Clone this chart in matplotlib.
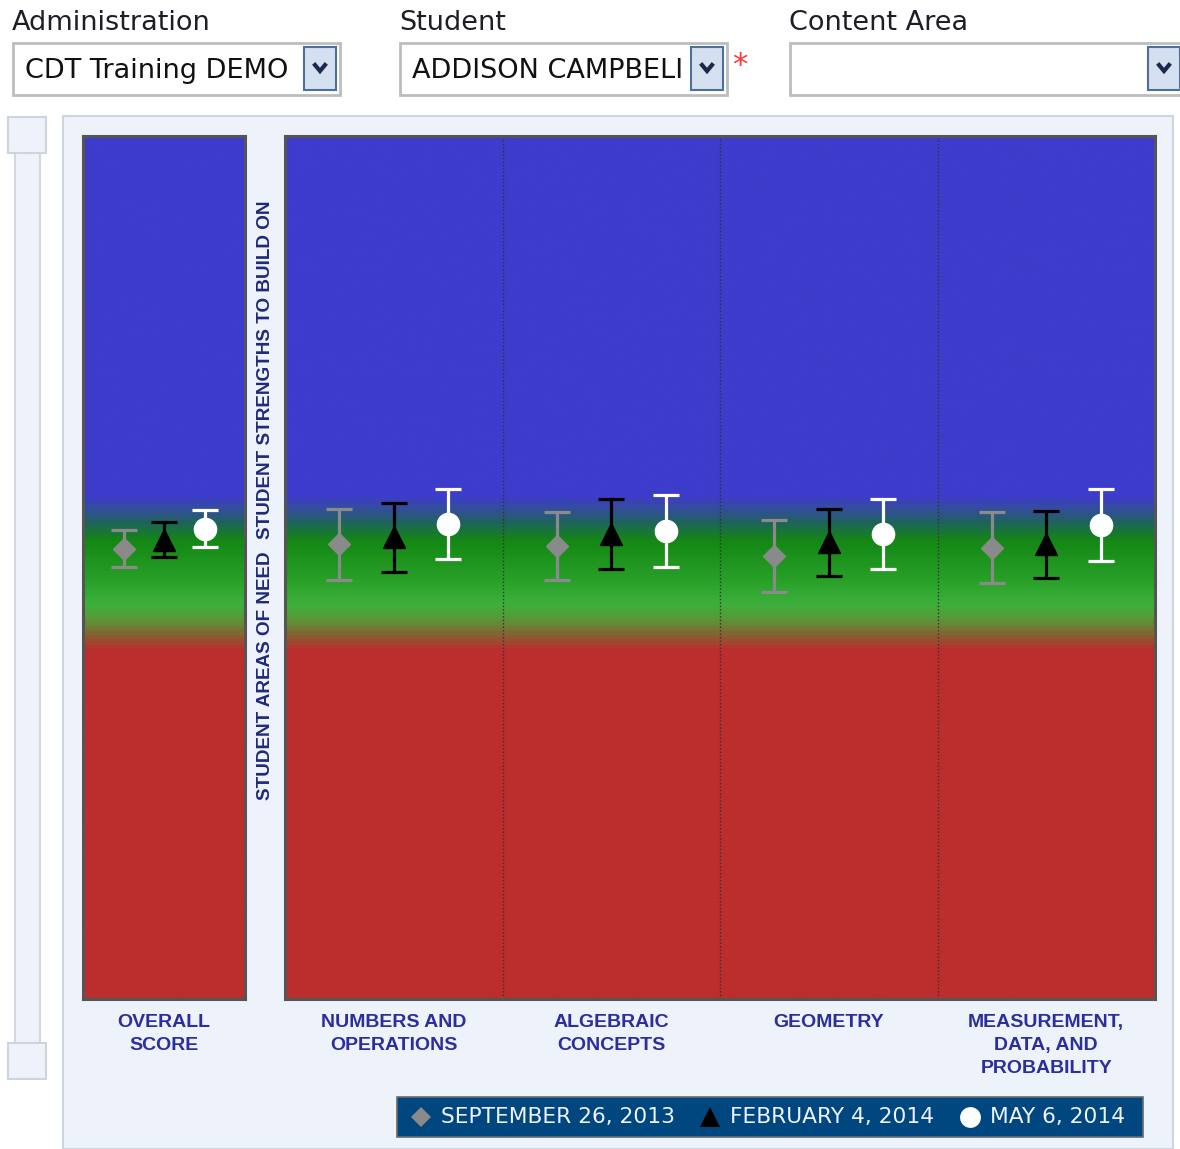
import numpy as np
import matplotlib.pyplot as plt
from matplotlib.colors import LinearSegmentedColormap
from matplotlib.patches import Rectangle
from matplotlib.lines import Line2D

W, H = 1180, 1149

# scores on a 0-100 scale, with the half-width of each error bar
dates = ['SEPTEMBER 26, 2013', 'FEBRUARY 4, 2014', 'MAY 6, 2014']
overall_scores = [52.2, 53.2, 54.5]
overall_err = [2.14, 2.03, 2.14]

categories = ['NUMBERS AND\nOPERATIONS', 'ALGEBRAIC\nCONCEPTS', 'GEOMETRY',
              'MEASUREMENT,\nDATA, AND\nPROBABILITY']
sep_scores = [52.7, 52.5, 51.3, 52.3]
sep_err = [4.11, 3.90, 4.15, 4.14]
feb_scores = [53.5, 53.9, 52.9, 52.7]
feb_err = [4.00, 4.02, 3.90, 3.90]
may_scores = [55.0, 54.2, 53.9, 54.9]
may_err = [4.04, 4.16, 4.02, 4.17]

colors = ['#8a8a8a', '#000000', '#ffffff']
markers = ['D', '^', 'o']
msizes = [11, 16, 16]
offsets = [-0.25, 0, 0.25]

# performance band: red (need) -> green -> blue (strength)
band = LinearSegmentedColormap.from_list('band', [
    (0.0, '#bc2d2d'), (0.404, '#bc2d2d'), (0.419, '#8c5a32'),
    (0.439, '#5a9637'), (0.457, '#3db03d'), (0.486, '#28a028'),
    (0.532, '#148714'), (0.552, '#1e645a'), (0.567, '#325096'),
    (0.584, '#3d3ccc'), (1.0, '#3d3ccc')])


def fx(x):
    return x / W


def fy(y):
    return 1 - y / H


fig = plt.figure(figsize=(W / 100, H / 100), dpi=100)
fig.patch.set_facecolor('white')

# light panel behind the chart
fig.add_artist(Rectangle((fx(63), fy(1149)), fx(1173 - 63), (1149 - 116) / H,
                         transform=fig.transFigure, facecolor='#eef2fb',
                         edgecolor='#cfd5df', lw=1.5, zorder=0))

# scrollbar
fig.add_artist(Rectangle((fx(15), fy(1043)), fx(25), (1043 - 152) / H,
                         transform=fig.transFigure, facecolor='#eef2fb',
                         edgecolor='#d4d8de', lw=1.5))
for top in [117, 1043]:
    fig.add_artist(Rectangle((fx(8), fy(top + 36)), fx(38), 36 / H,
                             transform=fig.transFigure, facecolor='#eef2fb',
                             edgecolor='#cfd3da', lw=1.5))

# drop-down selectors
selectors = [('Administration', 'CDT Training DEMO', 13, 340),
             ('Student', 'ADDISON CAMPBELI', 400, 727),
             ('Content Area', '', 790, 1195)]
for title, value, x0, x1 in selectors:
    fig.text(fx(x0 - 1), fy(30), title, fontsize=19.5, color='#1e1e28',
             va='baseline', ha='left')
    fig.add_artist(Rectangle((fx(x0), fy(95)), fx(x1 - x0), 52 / H,
                             transform=fig.transFigure, facecolor='white',
                             edgecolor='#bdbdbd', lw=2))
    fig.text(fx(x0 + 12), fy(78), value, fontsize=19.5, color='#111111',
             va='baseline', ha='left')
    bx = x1 - 36 if x1 < 1180 else 1148
    fig.add_artist(Rectangle((fx(bx), fy(90)), fx(32), 43 / H,
                             transform=fig.transFigure, facecolor='#d4e0f0',
                             edgecolor='#4f6f9b', lw=1.5))
    cx, cy = bx + 16, 68
    fig.add_artist(Line2D([fx(cx - 5), fx(cx), fx(cx + 5)],
                          [fy(cy - 3), fy(cy + 3), fy(cy - 3)],
                          transform=fig.transFigure, color='#1b2a4c', lw=3,
                          solid_joinstyle='miter'))
fig.text(fx(740), fy(66), '*', fontsize=22, color='#ff3535',
         ha='center', va='center')

ax0 = fig.add_axes([fx(83), fy(999), fx(162), 863 / H])
ax1 = fig.add_axes([fx(285), fy(999), fx(870), 863 / H])

grad = np.linspace(0, 1, 600).reshape(-1, 1)
for ax, n in [(ax0, 1), (ax1, len(categories))]:
    ax.imshow(grad, extent=[-0.5, n - 0.5, 0, 100], origin='lower',
              aspect='auto', cmap=band, zorder=0)
    ax.set_xlim(-0.5, n - 0.5)
    ax.set_ylim(0, 100)
    ax.set_yticks([])
    for s in ax.spines.values():
        s.set_color('#555555')
        s.set_linewidth(2.2)

for xs in [0.5, 1.5, 2.5]:
    ax1.axvline(xs, color='#333333', lw=1, ls=(0, (1, 1.5)), zorder=1)

for i in range(3):
    ax0.errorbar([offsets[i]], [overall_scores[i]], yerr=[overall_err[i]],
                 fmt=markers[i], color=colors[i], ms=msizes[i],
                 capsize=9.4, capthick=2.3, elinewidth=2.3, zorder=3)

series = [(sep_scores, sep_err), (feb_scores, feb_err), (may_scores, may_err)]
xpos = np.arange(len(categories))
for i, (vals, errs) in enumerate(series):
    ax1.errorbar(xpos + offsets[i], vals, yerr=errs, fmt=markers[i],
                 color=colors[i], ms=msizes[i], capsize=9.4,
                 capthick=2.3, elinewidth=2.3, zorder=3)

ax0.set_xticks([0], ['OVERALL\nSCORE'])
ax1.set_xticks(xpos, categories)
for ax in [ax0, ax1]:
    ax.tick_params(axis='x', length=0, pad=10.5)
    for lbl in ax.get_xticklabels():
        lbl.set_fontfamily('Liberation Sans')
        lbl.set_fontweight('bold')
        lbl.set_fontsize(14)
        lbl.set_color('#2b2f9e')
        lbl.set_linespacing(1.46)

# band captions between the two panels
fig.text(fx(265), fy(676), 'STUDENT AREAS OF NEED', rotation=90,
         ha='center', va='center', fontsize=13.6, fontweight='bold',
         family='Liberation Sans', color='#1e2a7a')
fig.text(fx(265), fy(370), 'STUDENT STRENGTHS TO BUILD ON', rotation=90,
         ha='center', va='center', fontsize=13.6, fontweight='bold',
         family='Liberation Sans', color='#1e2a7a')

# legend bar
fig.add_artist(Rectangle((fx(397), fy(1137)), fx(746), 40 / H,
                         transform=fig.transFigure, facecolor='#00467f',
                         edgecolor='#6a6a6a', lw=1.2))
for i, mx in enumerate([421, 710, 970]):
    fig.add_artist(Line2D([fx(mx)], [fy(1117)], transform=fig.transFigure,
                          marker=markers[i], color=colors[i],
                          ms=msizes[i] - 1, mew=0, ls='none'))
    fig.text(fx(mx + 20), fy(1117), dates[i], fontsize=15.7, color='#eef3ff',
             ha='left', va='center')

fig.savefig('out.png', dpi=100)
